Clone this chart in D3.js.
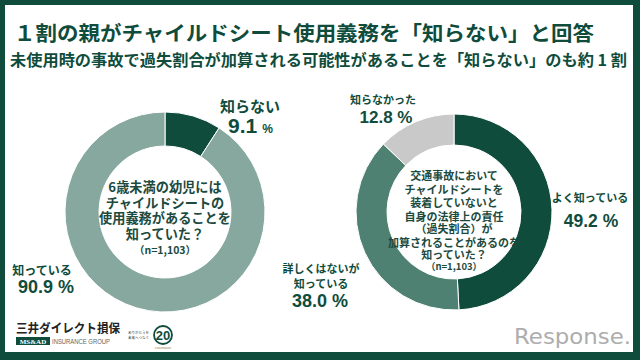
<!DOCTYPE html>
<html><head><meta charset="utf-8">
<script src="https://cdn.jsdelivr.net/npm/d3@7"></script>
<style>
html,body{margin:0;padding:0;background:#fff;}
svg{display:block;font-family:"Noto Sans CJK JP","Noto Sans",sans-serif;}
</style></head>
<body><svg id="c" width="640" height="360"></svg>
<script>
const title = "１割の親がチャイルドシート使用義務を「知らない」と回答";
const subtitle = "未使用時の事故で過失割合が加算される可能性があることを「知らない」のも約 1 割";
const q1Categories = ["知らない", "知っている"];
const q1Values = [9.1, 90.9];
const q1Question = ["6歳未満の幼児には", "チャイルドシートの", "使用義務があることを", "知っていた？"];
const q2Categories = ["よく知っている", "詳しくはないが知っている", "知らなかった"];
const q2Values = [49.2, 38.0, 12.8];
const q2Question = ["交通事故において", "チャイルドシートを", "装着していないと", "自身の法律上の責任", "（過失割合）が", "加算されることがあるのを", "知っていた？"];
const sampleNote = "（n=1,103）";

const DARK = "#0f4c3c";
const TXT = "#1c4a3e";
const NUMFONT = "Liberation Sans, Arial, sans-serif";
const svg = d3.select("#c");

// frame
svg.append("rect").attr("x",0).attr("y",0).attr("width",640).attr("height",360).attr("fill",DARK);
svg.append("rect").attr("x",5).attr("y",5).attr("width",628).attr("height",347).attr("fill","#fff");

svg.append("text").attr("x",14).attr("y",41).attr("font-size",20.5).attr("font-weight",700)
  .attr("fill",DARK).attr("textLength",580).attr("lengthAdjust","spacingAndGlyphs").text(title);
svg.append("text").attr("x",10).attr("y",66).attr("font-size",15.5).attr("font-weight",700)
  .attr("fill",DARK).attr("textLength",617).attr("lengthAdjust","spacingAndGlyphs").text(subtitle);

const pie = d3.pie().sort(null).value(d=>d.v);

function donut(cx, cy, rIn, rOut, cats, vals, colors){
  const data = cats.map((c,i)=>({c, v: vals[i]}));
  const arc = d3.arc().innerRadius(rIn).outerRadius(rOut);
  const g = svg.append("g").attr("transform",`translate(${cx},${cy})`);
  g.selectAll("path").data(pie(data)).join("path")
    .attr("d",arc).attr("fill",(d,i)=>colors[i])
    .attr("stroke","#fff").attr("stroke-width",1);
  return g;
}

function label(x, y, size, txt, anchor){
  return svg.append("text").attr("x",x).attr("y",y).attr("text-anchor",anchor||"middle")
    .attr("fill",DARK).attr("font-weight",700).attr("font-size",size).text(txt);
}
function num(x, y, size, txt){
  return svg.append("text").attr("x",x).attr("y",y).attr("text-anchor","middle")
    .attr("fill",DARK).attr("font-weight",700).attr("font-size",size)
    .attr("font-family",NUMFONT).text(txt);
}

// left donut
donut(165, 212, 66, 100, q1Categories, q1Values, [DARK, "#87a89e"]);
const lq = svg.append("text").attr("text-anchor","middle").attr("fill",TXT)
  .attr("font-weight",700).attr("font-size",13.2);
q1Question.forEach((t,i)=>lq.append("tspan").attr("x",165).attr("y",192+i*15.7).text(t));
svg.append("text").attr("x",165).attr("y",254).attr("text-anchor","middle").attr("fill",TXT)
  .attr("font-weight",700).attr("font-size",10.5).text(sampleNote);

// left labels
label(250, 112, 15, q1Categories[0]);
const p1 = svg.append("text").attr("x",228).attr("y",133).attr("fill",DARK)
  .attr("font-weight",700).attr("font-family",NUMFONT);
p1.append("tspan").attr("font-size",21).text(q1Values[0].toFixed(1));
p1.append("tspan").attr("font-size",12).attr("dx",5).text("%");

label(42, 275, 12, q1Categories[1]);
num(46, 293, 18, q1Values[1].toFixed(1)+" %");

// right donut
donut(454, 212, 67, 98, q2Categories, q2Values, [DARK, "#4e8172", "#c9c9c9"]);
const rq = svg.append("text").attr("text-anchor","middle").attr("fill",TXT)
  .attr("font-weight",700).attr("font-size",11);
const ys = [180, 194, 207, 221, 233, 247, 259];
q2Question.forEach((t,i)=>rq.append("tspan").attr("x",454).attr("y",ys[i]).text(t));
svg.append("text").attr("x",454).attr("y",270).attr("text-anchor","middle").attr("fill",TXT)
  .attr("font-weight",700).attr("font-size",9.5).text(sampleNote);

// right labels
label(383, 104, 11, q2Categories[2]);
num(386, 123, 17, q2Values[2].toFixed(1)+" %");

label(590, 202, 11, q2Categories[0]);
num(591, 227, 17.5, q2Values[0].toFixed(1)+" %");

const ml = svg.append("text").attr("text-anchor","middle").attr("fill",DARK)
  .attr("font-weight",700).attr("font-size",11);
ml.append("tspan").attr("x",321).attr("y",273).text("詳しくはないが");
ml.append("tspan").attr("x",321).attr("y",288).text("知っている");
num(320, 307, 18, q2Values[1].toFixed(1)+" %");

// logos
svg.append("text").attr("x",16).attr("y",333).attr("font-size",12.5).attr("font-weight",700)
  .attr("fill","#222").attr("textLength",104).attr("lengthAdjust","spacingAndGlyphs").text("三井ダイレクト損保");
svg.append("rect").attr("x",16).attr("y",337).attr("width",34).attr("height",8).attr("fill",DARK);
svg.append("text").attr("x",33).attr("y",344).attr("text-anchor","middle").attr("font-size",7)
  .attr("font-weight",700).attr("fill","#fff").attr("font-family","Liberation Serif").text("MS&AD");
svg.append("text").attr("x",52).attr("y",344).attr("font-size",6.5).attr("fill","#666")
  .attr("font-family","Liberation Sans Narrow, Liberation Sans").attr("textLength",58)
  .attr("lengthAdjust","spacingAndGlyphs").text("INSURANCE GROUP");
svg.append("text").attr("x",128).attr("y",334).attr("font-size",3.5).attr("fill","#333").text("ありがとうを");
svg.append("text").attr("x",128).attr("y",339).attr("font-size",3.5).attr("fill","#333").text("未来へつなぐ");
svg.append("circle").attr("cx",163).attr("cy",335).attr("r",9).attr("fill","none").attr("stroke",DARK).attr("stroke-width",1.8);
svg.append("text").attr("x",163).attr("y",340).attr("text-anchor","middle").attr("font-size",13)
  .attr("font-weight",700).attr("fill",DARK).attr("font-family",NUMFONT).text("20");
svg.append("text").attr("x",163).attr("y",349).attr("text-anchor","middle").attr("font-size",2.5)
  .attr("fill","#8a7a3a").text("ANNIVERSARY");

svg.append("text").attr("x",514).attr("y",344).attr("font-size",21)
  .attr("fill","#adadad").attr("font-family","DejaVu Sans")
  .attr("textLength",117).attr("lengthAdjust","spacingAndGlyphs").text("Response.");
</script></body></html>
